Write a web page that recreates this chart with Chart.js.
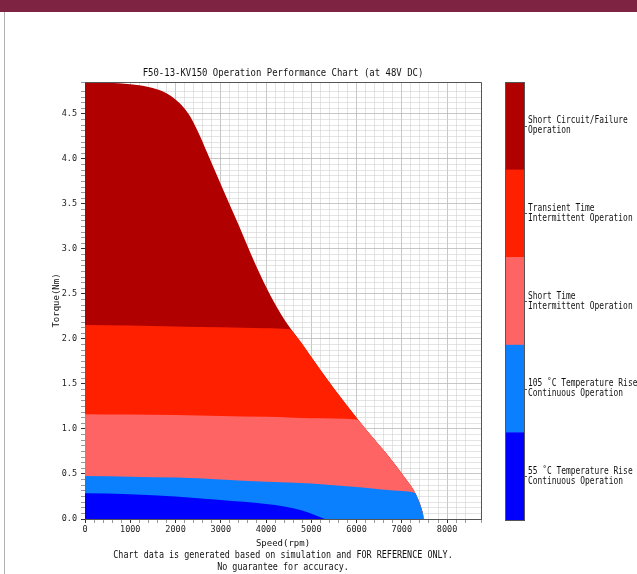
<!DOCTYPE html>
<html><head><meta charset="utf-8">
<script src="https://cdn.jsdelivr.net/npm/chart.js@4.4.1/dist/chart.umd.min.js"></script>
<style>
html,body{margin:0;padding:0;background:#fff;}
#wrap{position:relative;width:637px;height:574px;overflow:hidden;background:#fff;}
#topbar{position:absolute;left:0;top:0;width:637px;height:12px;background:#7e2341;}
#leftline{position:absolute;left:4px;top:12px;width:1px;height:562px;background:#b0b0b0;}
canvas{position:absolute;left:0;top:0;}
</style></head><body>
<div id="wrap"><canvas id="c" width="637" height="574"></canvas><div id="topbar"></div><div id="leftline"></div></div>
<script>
// ---- data ----
const chartTitle = 'F50-13-KV150 Operation Performance Chart (at 48V DC)';
const footerLines = ['Chart data is generated based on simulation and FOR REFERENCE ONLY.', 'No guarantee for accuracy.'];
const xTitle = 'Speed(rpm)';
const yTitle = 'Torque(Nm)';

// outer envelope (Short Circuit / Failure region upper boundary)
const envSpeed  = [0, 500, 1000, 1400, 1700, 1900, 2100, 2300, 2500, 2700, 3000, 3400, 3800, 4100, 4400, 4700, 5000, 5500, 6000, 6200, 6400, 6750, 7050, 7250, 7350, 7420, 7470, 7485];
const envTorque = [4.855, 4.847, 4.83, 4.80, 4.755, 4.70, 4.615, 4.49, 4.30, 4.07, 3.72, 3.26, 2.79, 2.48, 2.22, 2.01, 1.80, 1.45, 1.125, 1.0, 0.88, 0.67, 0.47, 0.33, 0.23, 0.14, 0.05, 0];

// Transient time intermittent upper boundary (flat part, then envelope)
const transSpeed  = [0, 1000, 2000, 3000, 4000, 4500];
const transTorque = [2.155, 2.15, 2.14, 2.13, 2.12, 2.11];

// Short time intermittent upper boundary
const shortSpeed  = [0, 1000, 2000, 3000, 4000, 5000, 6000];
const shortTorque = [1.165, 1.16, 1.155, 1.145, 1.135, 1.12, 1.105];

// 105 C continuous upper boundary
const c105Speed  = [0, 1000, 2000, 3000, 4000, 5000, 6000, 7000, 7300];
const c105Torque = [0.478, 0.47, 0.46, 0.44, 0.415, 0.395, 0.355, 0.31, 0.285];

// 55 C continuous upper boundary
const c55Speed  = [0, 1000, 2000, 3000, 4000, 4400, 4800, 5100, 5300];
const c55Torque = [0.285, 0.275, 0.25, 0.21, 0.167, 0.14, 0.095, 0.04, 0];

const zoneNames = [
  ['Short Circuit/Failure', 'Operation'],
  ['Transient Time', 'Intermittent Operation'],
  ['Short Time', 'Intermittent Operation'],
  ['105 \u02DAC Temperature Rise', 'Continuous Operation'],
  ['55 \u02DAC Temperature Rise', 'Continuous Operation']
];
const zoneColors = ['#b00000', '#ff2000', '#ff6464', '#0a80ff', '#0000ff'];

const xMax = 8750, yMax = 4.855;
const xMajor = 1000, xMinor = 200, yMajor = 0.5, yMinor = 0.0625;

// ---- build point lists ----
function pts(sp, tq) { return sp.map((s, i) => ({x: s, y: tq[i]})); }
function withEnvelope(sp, tq) {
  const last = sp[sp.length - 1];
  const p = pts(sp, tq);
  envSpeed.forEach((s, i) => { if (s > last) p.push({x: s, y: envTorque[i]}); });
  return p;
}
const boundaries = [
  pts(envSpeed, envTorque),
  withEnvelope(transSpeed, transTorque),
  withEnvelope(shortSpeed, shortTorque),
  withEnvelope(c105Speed, c105Torque),
  pts(c55Speed, c55Torque)
];

const datasets = boundaries.map((d, i) => ({
  label: zoneNames[i].join(' '),
  data: d,
  backgroundColor: zoneColors[i],
  borderWidth: 0,
  pointRadius: 0,
  pointHoverRadius: 0,
  fill: 'origin',
  cubicInterpolationMode: 'monotone',
  order: 5 - i
}));

const MONO = 'DejaVu Sans Mono';
function isMult(v, step) { const r = v / step; return Math.abs(r - Math.round(r)) < 1e-7; }

function scaledText(ctx, txt, x, y, size, sx, align) {
  ctx.save();
  ctx.translate(x, y);
  ctx.scale(sx, 1);
  ctx.font = size + 'px "' + MONO + '"';
  ctx.textAlign = align || 'center';
  ctx.textBaseline = 'middle';
  ctx.fillStyle = '#111';
  ctx.fillText(txt, 0, 0);
  ctx.restore();
}

const decor = {
  id: 'decor',
  afterDraw(chart) {
    const ctx = chart.ctx, a = chart.chartArea;
    // top & right frame
    ctx.save();
    ctx.strokeStyle = '#555';
    ctx.lineWidth = 1;
    ctx.beginPath();
    ctx.moveTo(a.left, Math.round(a.top) + 0.5);
    ctx.lineTo(Math.round(a.right) + 0.5, Math.round(a.top) + 0.5);
    ctx.lineTo(Math.round(a.right) + 0.5, a.bottom);
    ctx.stroke();
    ctx.restore();
    // title
    const cx = (a.left + a.right) / 2;
    scaledText(ctx, chartTitle, cx, 73, 11, 0.815);
    // footer
    scaledText(ctx, footerLines[0], cx, 555, 11, 0.765);
    scaledText(ctx, footerLines[1], cx, 567, 11, 0.765);
    // colour bar
    const x0 = 505, x1 = 524;
    const top = a.top, bot = a.bottom + 1;
    const h = (bot - top) / zoneColors.length;
    zoneColors.forEach((c, i) => {
      ctx.fillStyle = c;
      ctx.fillRect(x0, top + i * h, x1 - x0, h + 0.5);
    });
    ctx.strokeStyle = '#555';
    ctx.lineWidth = 1;
    ctx.strokeRect(x0 + 0.5, Math.round(top) + 0.5, x1 - x0, Math.round(bot - top));
    zoneNames.forEach((n, i) => {
      const yc = top + (i + 0.5) * h;
      ctx.beginPath();
      ctx.moveTo(x1, Math.round(yc) + 0.5);
      ctx.lineTo(x1 + 3, Math.round(yc) + 0.5);
      ctx.stroke();
      scaledText(ctx, n[0], 528, yc - 5, 10, 0.79, 'left');
      scaledText(ctx, n[1], 528, yc + 5, 10, 0.79, 'left');
    });
  }
};

const tickFont = {family: MONO, size: 8.5};
const titleFont = {family: MONO, size: 9};

new Chart(document.getElementById('c'), {
  type: 'line',
  data: {datasets},
  options: {
    responsive: false,
    animation: false,
    devicePixelRatio: 1,
    layout: {padding: {left: 51, right: 156, top: 82, bottom: 25}},
    plugins: {legend: {display: false}, tooltip: {enabled: false}},
    scales: {
      x: {
        type: 'linear', min: 0, max: xMax, z: 1,
        afterFit(s) { s.height = 30; },
        ticks: {
          stepSize: xMinor, autoSkip: false, maxRotation: 0, minRotation: 0,
          padding: 2, color: '#222', font: tickFont,
          callback: v => isMult(v, xMajor) ? String(v) : ''
        },
        grid: {
          color: c => isMult(c.tick.value, xMajor) ? 'rgba(185,185,185,0.8)' : 'rgba(205,205,205,0.55)',
          tickColor: c => isMult(c.tick.value, xMajor) ? '#333' : '#999',
          tickLength: 4, lineWidth: 1
        },
        border: {color: '#555', width: 1},
        title: {display: true, text: xTitle, color: '#111', font: titleFont, padding: {top: 0, bottom: 0}}
      },
      y: {
        type: 'linear', min: 0, max: yMax, z: 1,
        afterFit(s) { s.width = 34; },
        ticks: {
          stepSize: yMinor, autoSkip: false, padding: 4, color: '#222', font: tickFont,
          callback: v => isMult(v, yMajor) ? v.toFixed(1) : ''
        },
        grid: {
          color: c => isMult(c.tick.value, yMajor) ? 'rgba(185,185,185,0.8)' : 'rgba(205,205,205,0.55)',
          tickColor: c => isMult(c.tick.value, yMajor) ? '#333' : '#999',
          tickLength: 4, lineWidth: 1
        },
        border: {color: '#555', width: 1},
        title: {display: true, text: yTitle, color: '#111', font: titleFont, padding: {top: 0, bottom: 0}}
      }
    }
  },
  plugins: [decor]
});
</script>
</body></html>
